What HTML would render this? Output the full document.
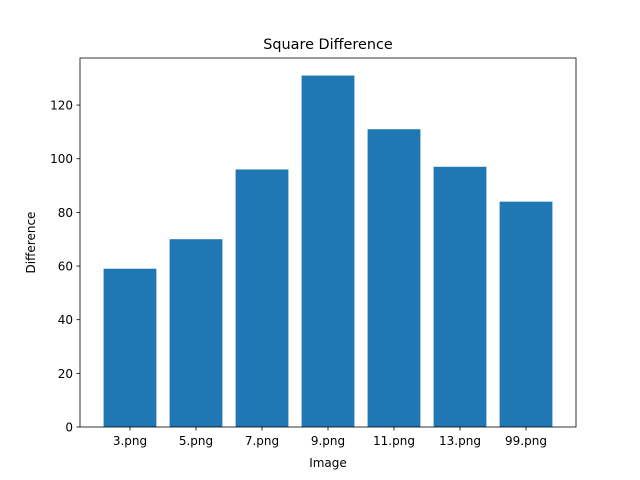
<!DOCTYPE html>
<html><head><meta charset="utf-8"><style>
body{margin:0;background:#fff;}
svg{display:block;font-family:"DejaVu Sans","Liberation Sans",sans-serif;}
</style></head><body>
<svg id="chart" width="640" height="480">
<text x="328" y="49" text-anchor="middle" font-size="14.4">Square Difference</text>
<g id="bars"></g>
<g id="xticks"></g>
<g id="yticks"></g>
<rect x="80" y="58" width="496" height="369" fill="none" stroke="#000" stroke-width="0.8"/>
<text x="328" y="467" text-anchor="middle" font-size="12">Image</text>
<text x="35" y="242.5" text-anchor="middle" font-size="12" transform="rotate(-90 35 242.5)">Difference</text>
</svg>
<script>
const categories=["3.png","5.png","7.png","9.png","11.png","13.png","99.png"];
const values=[59,70,96,131,111,97,84];
const yTicks=[0,20,40,60,80,100,120];
const NS="http://www.w3.org/2000/svg";
const L=80,R=576,T=58,B=427;
const yMax=Math.max(...values)*1.05;
const xMin=-0.7575,xMax=categories.length-1+0.7575;
function xs(i){return L+(i-xMin)/(xMax-xMin)*(R-L);}
function ys(v){return B-v/yMax*(B-T);}
const bw=0.8*(R-L)/(xMax-xMin);
const gb=document.getElementById('bars'),gx=document.getElementById('xticks'),gy=document.getElementById('yticks');
function mk(t,a,p){const e=document.createElementNS(NS,t);for(const k in a)e.setAttribute(k,a[k]);p.appendChild(e);return e;}
values.forEach((v,i)=>{
 const r=mk('rect',{x:xs(i)-bw/2,y:ys(v),width:bw,height:B-ys(v),fill:'#1f77b4'},gb);
 
 
});
categories.forEach((c,i)=>{
 const l=mk('line',{x1:xs(i),x2:xs(i),y1:B,y2:B+3.5,stroke:'#000','stroke-width':0.8},gx);
 
 
 const t=mk('text',{x:xs(i),y:B+18,'text-anchor':'middle','font-size':12},gx);
 t.textContent=c;
 
 
});
yTicks.forEach(v=>{
 const l=mk('line',{x1:L-3.5,x2:L,y1:ys(v),y2:ys(v),stroke:'#000','stroke-width':0.8},gy);
 
 
 const t=mk('text',{x:L-7,y:ys(v)+4.5,'text-anchor':'end','font-size':12},gy);
 t.textContent=v;
 
 
});
</script>
</body></html>
